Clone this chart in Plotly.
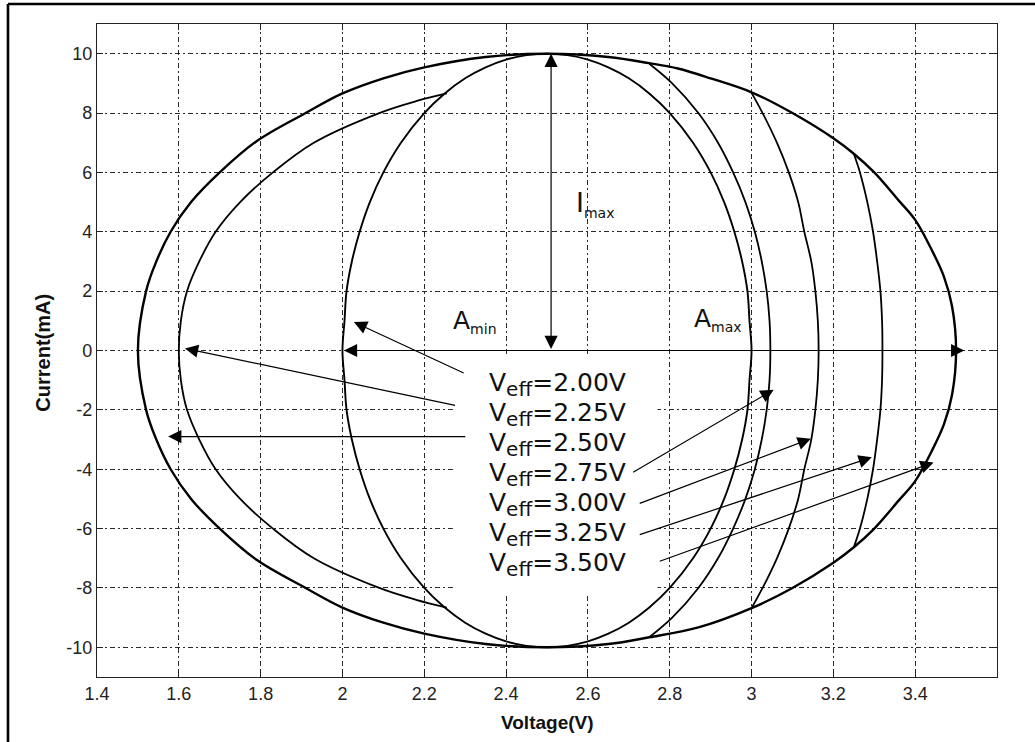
import plotly.graph_objects as go

# ---------------- data ----------------
x_ticks = [1.4, 1.6, 1.8, 2.0, 2.2, 2.4, 2.6, 2.8, 3.0, 3.2, 3.4]
x_labels = ["1.4", "1.6", "1.8", "2", "2.2", "2.4", "2.6", "2.8", "3", "3.2", "3.4"]
y_ticks = [-10, -8, -6, -4, -2, 0, 2, 4, 6, 8, 10]
y_labels = ["-10", "-8", "-6", "-4", "-2", "0", "2", "4", "6", "8", "10"]

# outer loop (Veff = 2.50 V / 3.50 V envelope)
outer_v = [1.50, 1.52, 1.545, 1.58, 1.63, 1.70, 1.79, 1.91, 2.00, 2.10, 2.20, 2.35, 2.50,
           2.65, 2.75, 2.82, 2.90, 3.00, 3.10, 3.20, 3.25, 3.30, 3.36, 3.40, 3.44, 3.47, 3.49, 3.50,
           3.49, 3.47, 3.44, 3.40, 3.36, 3.30, 3.25, 3.20, 3.10, 3.00, 2.87, 2.75, 2.65, 2.50,
           2.35, 2.20, 2.10, 2.00, 1.91, 1.79, 1.70, 1.63, 1.58, 1.545, 1.52, 1.50]
outer_i = [0.0, 2.0, 3.0, 4.0, 5.0, 6.0, 7.05, 8.0, 8.66, 9.17, 9.54, 9.89, 10.0,
           9.89, 9.68, 9.50, 9.17, 8.70, 8.00, 7.15, 6.63, 6.00, 5.05, 4.40, 3.40, 2.50, 1.50, 0.0,
           -1.50, -2.50, -3.40, -4.40, -5.05, -6.00, -6.63, -7.15, -8.00, -8.68, -9.33, -9.66, -9.89, -10.0,
           -9.89, -9.54, -9.17, -8.66, -8.0, -7.05, -6.0, -5.0, -4.0, -3.0, -2.0, 0.0]

# inner loop (Veff = 2.00 V)
inner_v = [2.000, 2.005, 2.010, 2.023, 2.042, 2.067, 2.100, 2.143, 2.200, 2.250, 2.300, 2.350, 2.400, 2.450, 2.500,
           2.550, 2.600, 2.650, 2.700, 2.750, 2.800, 2.857, 2.900, 2.933, 2.958, 2.977, 2.990, 2.995, 3.000,
           2.995, 2.990, 2.977, 2.958, 2.933, 2.900, 2.857, 2.800, 2.750, 2.700, 2.650, 2.600, 2.550, 2.500,
           2.450, 2.400, 2.350, 2.300, 2.250, 2.200, 2.143, 2.100, 2.067, 2.042, 2.023, 2.010, 2.005, 2.000]
inner_i = [0.0, 1.0, 2.0, 3.0, 4.0, 5.0, 6.0, 7.0, 8.0, 8.66, 9.17, 9.54, 9.80, 9.95, 10.0,
           9.95, 9.80, 9.54, 9.17, 8.66, 8.0, 7.0, 6.0, 5.0, 4.0, 3.0, 2.0, 1.0, 0.0,
           -1.0, -2.0, -3.0, -4.0, -5.0, -6.0, -7.0, -8.0, -8.66, -9.17, -9.54, -9.80, -9.95, -10.0,
           -9.95, -9.80, -9.54, -9.17, -8.66, -8.0, -7.0, -6.0, -5.0, -4.0, -3.0, -2.0, -1.0, 0.0]

# left branch of the Veff = 2.25 V loop
arc225_v = [2.255, 2.18, 2.09, 1.93, 1.83, 1.75, 1.69, 1.65, 1.62, 1.605, 1.60,
            1.605, 1.62, 1.65, 1.69, 1.75, 1.83, 1.93, 2.09, 2.18, 2.255]
arc225_i = [8.66, 8.4, 8.0, 7.0, 6.0, 5.0, 4.0, 3.0, 2.0, 1.0, 0.0,
            -1.0, -2.0, -3.0, -4.0, -5.0, -6.0, -7.0, -8.0, -8.4, -8.66]

# right branches of the Veff = 2.75 / 3.00 / 3.25 V loops
arc275_v = [2.750, 2.806, 2.870, 2.918, 2.955, 2.985, 3.008, 3.025, 3.037, 3.044, 3.046,
            3.044, 3.037, 3.025, 3.008, 2.985, 2.955, 2.918, 2.870, 2.806, 2.750]
arc275_i = [9.66, 9.0, 8.0, 7.0, 6.0, 5.0, 4.0, 3.0, 2.0, 1.0, 0.0,
            -1.0, -2.0, -3.0, -4.0, -5.0, -6.0, -7.0, -8.0, -9.0, -9.66]
arc300_v = [3.000, 3.027, 3.062, 3.091, 3.114, 3.129, 3.146, 3.156, 3.162, 3.164,
            3.162, 3.156, 3.146, 3.129, 3.114, 3.091, 3.062, 3.027, 3.000]
arc300_i = [8.68, 8.0, 7.0, 6.0, 5.0, 4.0, 3.0, 2.0, 1.0, 0.0,
            -1.0, -2.0, -3.0, -4.0, -5.0, -6.0, -7.0, -8.0, -8.68]
arc325_v = [3.250, 3.265, 3.283, 3.297, 3.307, 3.315, 3.319, 3.320,
            3.319, 3.315, 3.307, 3.297, 3.283, 3.265, 3.250]
arc325_i = [6.63, 6.0, 5.0, 4.0, 3.0, 2.0, 1.0, 0.0,
            -1.0, -2.0, -3.0, -4.0, -5.0, -6.0, -6.63]

# V_eff labels and their arrows (tail -> tip)
veff_labels = ["2.00", "2.25", "2.50", "2.75", "3.00", "3.25", "3.50"]
tail_v = [2.300, 2.279, 2.304, 2.707, 2.723, 2.723, 2.772]
tail_i = [-0.78, -1.86, -2.90, -4.13, -5.17, -6.22, -7.12]
tip_v = [2.028, 1.615, 1.574, 3.054, 3.145, 3.294, 3.445]
tip_i = [0.96, 0.07, -2.90, -1.32, -2.97, -3.60, -3.77]

# dimension arrows
amp_from = [2.0, 0.0]      # A_min .. A_max arrow (V, I)
amp_to = [3.52, 0.0]
imax_from = [2.51, 0.0]
imax_to = [2.51, 10.0]

# ---------------- figure ----------------
fig = go.Figure()
line_specs = [
    (outer_v, outer_i, 2.4),
    (inner_v, inner_i, 1.9),
    (arc225_v, arc225_i, 1.8),
    (arc275_v, arc275_i, 1.8),
    (arc300_v, arc300_i, 1.8),
    (arc325_v, arc325_i, 1.8),
]
for vv, ii, w in line_specs:
    fig.add_trace(go.Scatter(x=vv, y=ii, mode="lines",
                             line=dict(color="black", width=w, shape="spline", smoothing=1.0),
                             hoverinfo="skip", showlegend=False))

tick_font = dict(family="Liberation Sans Narrow, Liberation Sans, Arial", size=18, color="#222")
grid_common = dict(showgrid=True, gridcolor="#2a2a2a", gridwidth=1, griddash="5px,3px,2px,3px",
                   showline=True, linecolor="#222", linewidth=1.2, mirror="ticks",
                   ticks="inside", ticklen=6, tickcolor="#222", tickwidth=1,
                   zeroline=False, tickfont=tick_font)

fig.update_xaxes(range=[1.4, 3.6], tickmode="array", tickvals=x_ticks, ticktext=x_labels,
                 **grid_common)
fig.update_yaxes(range=[-11, 11], tickmode="array", tickvals=y_ticks, ticktext=y_labels,
                 **grid_common)

shapes = [
    # white background behind the label block
    dict(type="rect", xref="x", yref="y", x0=2.27, x1=2.77, y0=-8.25, y1=-0.2,
         fillcolor="white", line=dict(width=0), layer="between"),
    # picture frame (left and top edges)
    dict(type="line", xref="paper", yref="paper", x0=-0.0989, x1=-0.0989, y0=-0.3, y1=1.0306,
         line=dict(color="black", width=2.6)),
    dict(type="line", xref="paper", yref="paper", x0=-0.0989, x1=1.2, y0=1.0306, y1=1.0306,
         line=dict(color="black", width=2.6)),
]

label_font = dict(family="DejaVu Sans", size=25, color="#111")
annotations = []
row_y = [-1.15, -2.16, -3.17, -4.18, -5.19, -6.20, -7.21]
for lab, yy in zip(veff_labels, row_y):
    annotations.append(dict(
        x=2.3535, y=yy, xref="x", yref="y", xanchor="left", yanchor="middle",
        text='V<sub><span style="font-size:20px">eff</span></sub>=' + lab + "V",
        showarrow=False, font=label_font))
for tv, ti, hv, hi in zip(tail_v, tail_i, tip_v, tip_i):
    annotations.append(dict(
        x=hv, y=hi, ax=tv, ay=ti, xref="x", yref="y", axref="x", ayref="y",
        text="", showarrow=True, arrowhead=2, arrowsize=2.2, arrowwidth=1.2,
        arrowcolor="black", standoff=0))
for (f, t) in [(amp_from, amp_to), (imax_from, imax_to)]:
    annotations.append(dict(
        x=t[0], y=t[1], ax=f[0], ay=f[1], xref="x", yref="y", axref="x", ayref="y",
        text="", showarrow=True, arrowhead=2, arrowsize=2.2, arrowwidth=1.2,
        startarrowhead=2, startarrowsize=2.2, arrowside="end+start",
        arrowcolor="black", standoff=0, startstandoff=0))

axis_title_font = dict(family="Liberation Sans Narrow, Liberation Sans, Arial", size=19, color="#111")
annotations += [
    dict(x=2.325, y=0.99, xref="x", yref="y", showarrow=False,
         text='A<sub><span style="font-size:14px">min</span></sub>', font=label_font),
    dict(x=2.918, y=1.04, xref="x", yref="y", showarrow=False,
         text='A<sub><span style="font-size:14px">max</span></sub>', font=label_font),
    dict(x=2.618, y=4.92, xref="x", yref="y", showarrow=False,
         text='I<sub><span style="font-size:14px">max</span></sub>',
         font=dict(family="DejaVu Sans", size=27, color="#111")),
    dict(x=0.5, y=-0.069, xref="paper", yref="paper", xanchor="center", yanchor="middle",
         showarrow=False, text="<b>Voltage(V)</b>", font=axis_title_font),
    dict(x=-0.0594, y=0.496, xref="paper", yref="paper", xanchor="center", yanchor="middle",
         showarrow=False, textangle=-90, text="<b>Current(mA)</b>",
         font=dict(family="Liberation Sans Narrow, Liberation Sans, Arial", size=20, color="#111")),
]

fig.update_layout(width=1035, height=742, margin=dict(l=97, r=38, t=24, b=65),
                  paper_bgcolor="white", plot_bgcolor="white",
                  shapes=shapes, annotations=annotations)

fig.write_html("out.html")
